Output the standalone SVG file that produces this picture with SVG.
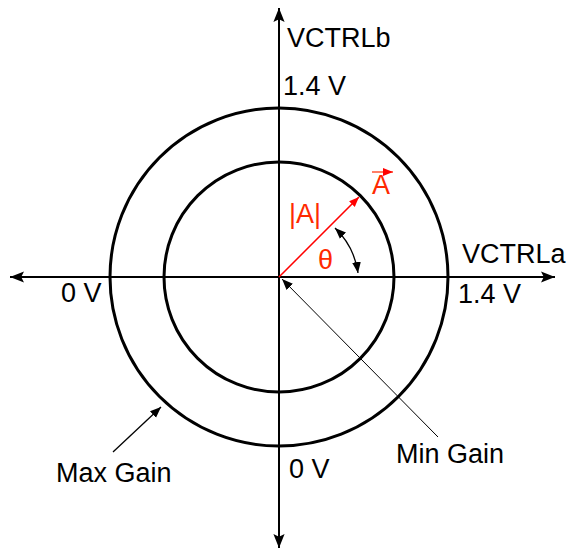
<svg xmlns="http://www.w3.org/2000/svg" width="576" height="550" viewBox="0 0 576 550">
<defs>
<marker id="ahBig" viewBox="0 0 10 10" refX="10" refY="5" markerWidth="14" markerHeight="14" markerUnits="userSpaceOnUse" orient="auto-start-reverse"><path d="M0,1 L10,5 L0,9 L2,5 Z" fill="#000"/></marker>
<marker id="ahSm" viewBox="0 0 10 10" refX="10" refY="5" markerWidth="11" markerHeight="11" markerUnits="userSpaceOnUse" orient="auto-start-reverse"><path d="M0,1 L10,5 L0,9 Z" fill="#000"/></marker>
<marker id="ahRed" viewBox="0 0 10 10" refX="10" refY="5" markerWidth="10" markerHeight="10" markerUnits="userSpaceOnUse" orient="auto"><path d="M0,1 L10,5 L0,9 Z" fill="#ff0000"/></marker>
</defs>
<style>
.lbl{font-family:"Liberation Sans",Arial,sans-serif;font-size:27px;fill:#000}
.red{font-family:"Liberation Sans",Arial,sans-serif;font-size:27px;fill:#ff2a00}
.circ{fill:none;stroke:#000;stroke-width:3}
.axis{stroke:#000;stroke-width:2;fill:none}
</style>
<g id="outer-circle"><circle class="circ" cx="279" cy="277" r="169"/></g>
<g id="inner-circle"><circle class="circ" cx="279" cy="277" r="115"/></g>
<g id="connectors">
<line class="axis" x1="279" y1="548" x2="279" y2="8" marker-start="url(#ahBig)" marker-end="url(#ahBig)"/>
<line class="axis" x1="10" y1="277" x2="555" y2="277" marker-start="url(#ahBig)" marker-end="url(#ahBig)"/>
<line x1="279" y1="277" x2="359" y2="197" stroke="#ff0000" stroke-width="1.5" marker-end="url(#ahRed)"/>
<path d="M335,228 A77,77 0 0 1 358,273" fill="none" stroke="#000" stroke-width="1.3" marker-start="url(#ahSm)" marker-end="url(#ahSm)"/>
<line x1="438" y1="437" x2="282" y2="279" stroke="#000" stroke-width="1" marker-end="url(#ahSm)"/>
<line x1="113" y1="452" x2="161" y2="407" stroke="#000" stroke-width="1.3" marker-end="url(#ahSm)"/>
</g>
<g id="labels">
<text class="lbl" x="287" y="47">VCTRLb</text>
<text class="lbl" x="283" y="95">1.4 V</text>
<text class="lbl" x="462" y="263">VCTRLa</text>
<text class="lbl" x="458" y="303">1.4 V</text>
<text class="lbl" x="61" y="302">0 V</text>
<text class="lbl" x="289" y="478">0 V</text>
<text class="lbl" x="396" y="463">Min Gain</text>
<text class="lbl" x="56" y="482">Max Gain</text>
<text class="red" x="289" y="223">|A|</text>
<text class="red" x="372" y="194">A</text>
<line x1="372" y1="172" x2="393" y2="172" stroke="#ff2a00" stroke-width="1.2" marker-end="url(#ahRed)"/>
<text class="red" x="318" y="269">θ</text>
</g>
</svg>
